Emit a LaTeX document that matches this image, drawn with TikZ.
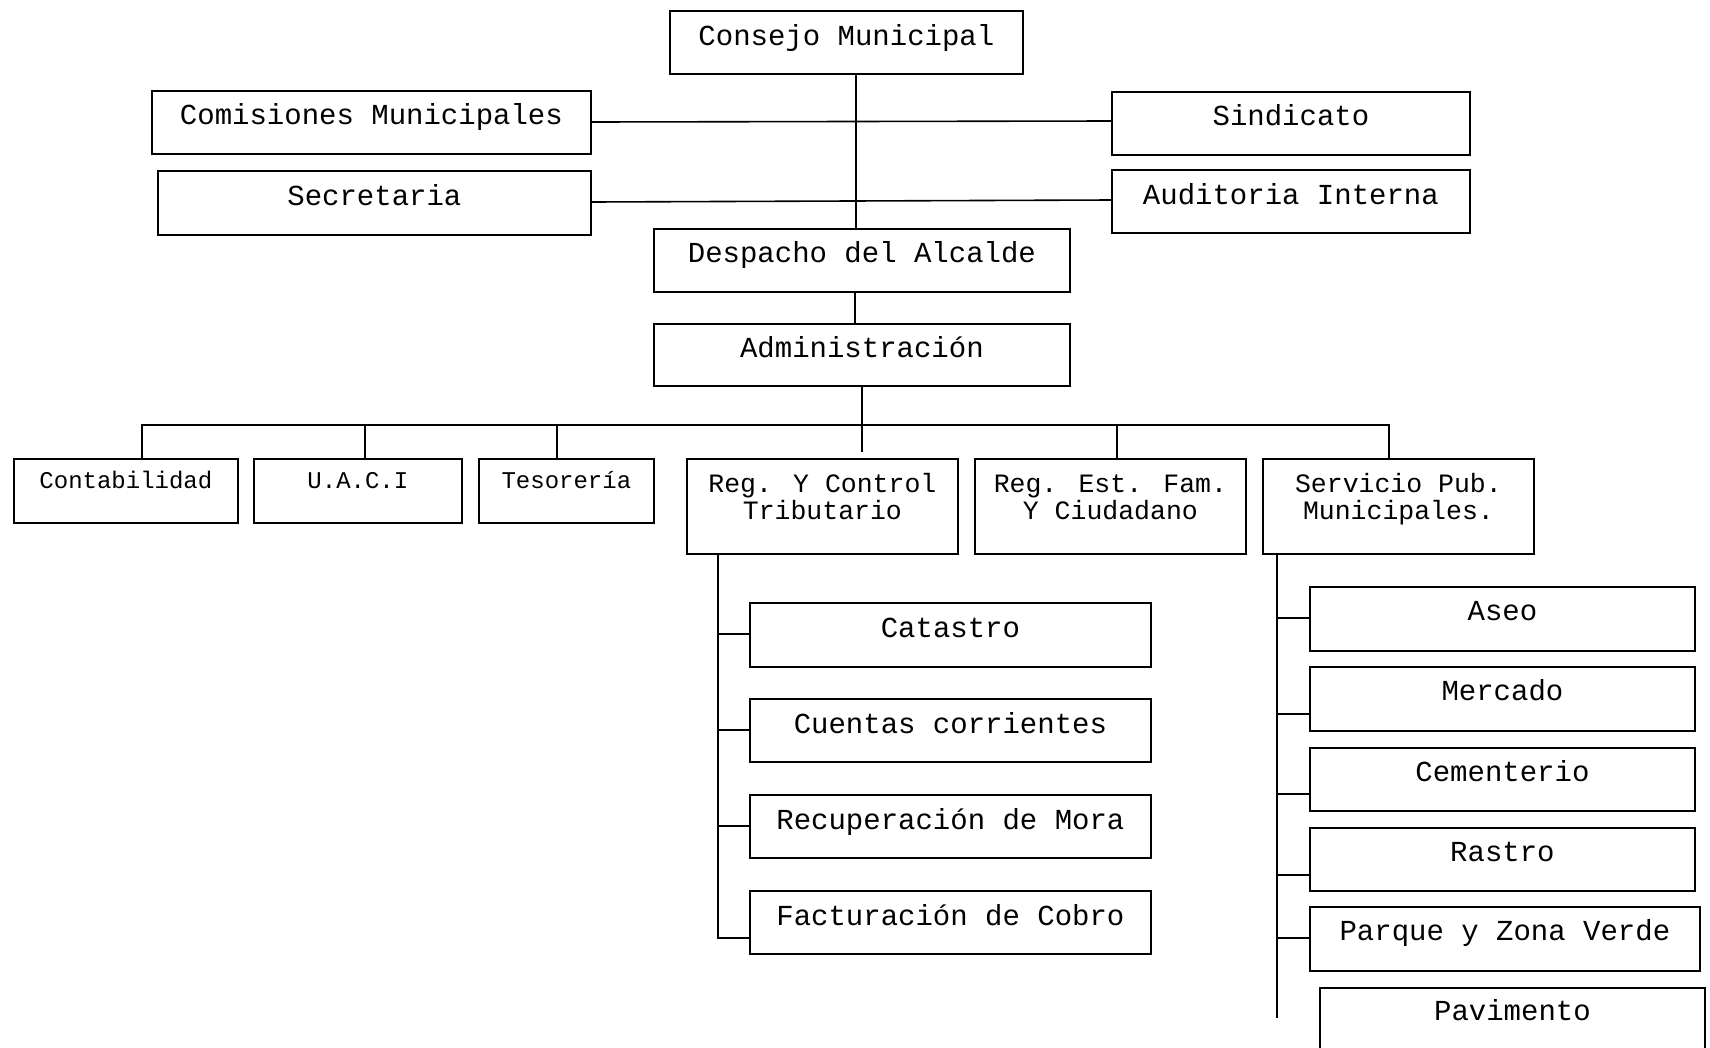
\documentclass[tikz,border=0pt]{standalone}
\usepackage{fontspec}
\setmainfont{Liberation Mono}
\usetikzlibrary{calc}
\tikzset{
  box/.style={draw, line width=1.8pt, rectangle, inner sep=0pt, anchor=north west, align=center},
  big/.style={font=\fontsize{29}{31}\selectfont},
  mid/.style={font=\fontsize{26.5}{27.5}\selectfont},
  sml/.style={font=\fontsize{24}{26}\selectfont},
  conn/.style={line width=1.6pt},
}
\begin{document}
\begin{tikzpicture}[x=1pt,y=-1pt]
\path[use as bounding box] (0,0) rectangle (1710,1047);
\clip (0,0) rectangle (1710,1047);
% top level
\node[box,big,minimum width=353pt,text height=35pt,text depth=28pt] (cm) at (669,10) {Consejo Municipal};
\node[box,big,minimum width=439pt,text height=34pt,text depth=29pt] (com) at (151,90) {Comisiones Municipales};
\node[box,big,minimum width=358pt,text height=34pt,text depth=29pt] (sin) at (1111,91) {Sindicato};
\node[box,big,minimum width=433pt,text height=35pt,text depth=29pt] (sec) at (157,170) {Secretaria};
\node[box,big,minimum width=358pt,text height=35pt,text depth=28pt] (aud) at (1111,169) {Auditoria Interna};
\node[box,big,minimum width=416pt,text height=34pt,text depth=29pt] (des) at (653,228) {Despacho del Alcalde};
\node[box,big,minimum width=416pt,text height=34pt,text depth=28pt] (adm) at (653,323) {Administración};
% second level
\node[box,sml,minimum width=224pt,text height=30pt,text depth=34pt] (con) at (13,458) {Contabilidad};
\node[box,sml,minimum width=208pt,text height=30pt,text depth=34pt] (uaci) at (253,458) {U.A.C.I};
\node[box,sml,minimum width=175pt,text height=30pt,text depth=34pt] (tes) at (478,458) {Tesorería};
\node[box,mid,minimum width=271pt,text height=61pt,text depth=34pt] (rct) at (686,458) {Reg. Y Control\\Tributario};
\node[box,mid,minimum width=271pt,text height=61pt,text depth=34pt] (ref) at (974,458) {Reg. Est. Fam.\\Y Ciudadano};
\node[box,mid,minimum width=271pt,text height=61pt,text depth=34pt] (spm) at (1262,458) {Servicio Pub.\\Municipales.};
% tributario children
\node[box,big,minimum width=401pt,text height=35pt,text depth=29pt] (cat) at (749,602) {Catastro};
\node[box,big,minimum width=401pt,text height=35pt,text depth=28pt] (cue) at (749,698) {Cuentas corrientes};
\node[box,big,minimum width=401pt,text height=35pt,text depth=28pt] (rec) at (749,794) {Recuperación de Mora};
\node[box,big,minimum width=401pt,text height=35pt,text depth=28pt] (fac) at (749,890) {Facturación de Cobro};
% servicios children
\node[box,big,minimum width=385pt,text height=34pt,text depth=30pt] (ase) at (1309,586) {Aseo};
\node[box,big,minimum width=385pt,text height=34pt,text depth=30pt] (mer) at (1309,666) {Mercado};
\node[box,big,minimum width=385pt,text height=34pt,text depth=29pt] (cem) at (1309,747) {Cementerio};
\node[box,big,minimum width=385pt,text height=34pt,text depth=29pt] (ras) at (1309,827) {Rastro};
\node[box,big,minimum width=390pt,text height=34pt,text depth=30pt] (par) at (1309,906) {Parque y Zona Verde};
\node[box,big,minimum width=385pt,text height=33pt,text depth=62pt] (pav) at (1319,987) {Pavimento};
% top connectors
\coordinate (vx) at (856,0);
\coordinate (vy) at (855,0);
\draw[conn] (vx |- cm.south) -- (vx |- des.north);
\draw[conn] (vy |- des.south) -- (vy |- adm.north);
\coordinate (h1l) at (590,122);
\coordinate (h1r) at (1111,121);
\coordinate (h2l) at (590,202);
\coordinate (h2r) at (1111,200);
\draw[conn] (h1l -| com.east) -- (h1r -| sin.west);
\draw[conn] (h2l -| sec.east) -- (h2r -| aud.west);
% bus
\coordinate (busL) at (142,425);
\coordinate (busR) at (1389,425);
\coordinate (admEnd) at (862,452);
\draw[conn] (adm.south -| admEnd) -- (admEnd);
\draw[conn] (busL |- con.north) -- (busL) -- (busR) -- (busR |- spm.north);
\draw[conn] (365,425) -- (365,425 |- uaci.north);
\draw[conn] (557,425) -- (557,425 |- tes.north);
\draw[conn] (1117,425) -- (1117,425 |- ref.north);
% tributario spine
\coordinate (rctEnd) at (718,938);
\draw[conn] (rct.south -| rctEnd) -- (rctEnd) -- (rctEnd -| fac.west);
\draw[conn] (718,634) -- (718,634 -| cat.west);
\draw[conn] (718,730) -- (718,730 -| cue.west);
\draw[conn] (718,826) -- (718,826 -| rec.west);
% servicios spine
\coordinate (spmEnd) at (1277,1018);
\draw[conn] (spm.south -| spmEnd) -- (spmEnd);
\draw[conn] (1277,618) -- (1277,618 -| ase.west);
\draw[conn] (1277,714) -- (1277,714 -| mer.west);
\draw[conn] (1277,794) -- (1277,794 -| cem.west);
\draw[conn] (1277,875) -- (1277,875 -| ras.west);
\draw[conn] (1277,938) -- (1277,938 -| par.west);
\end{tikzpicture}
\end{document}
